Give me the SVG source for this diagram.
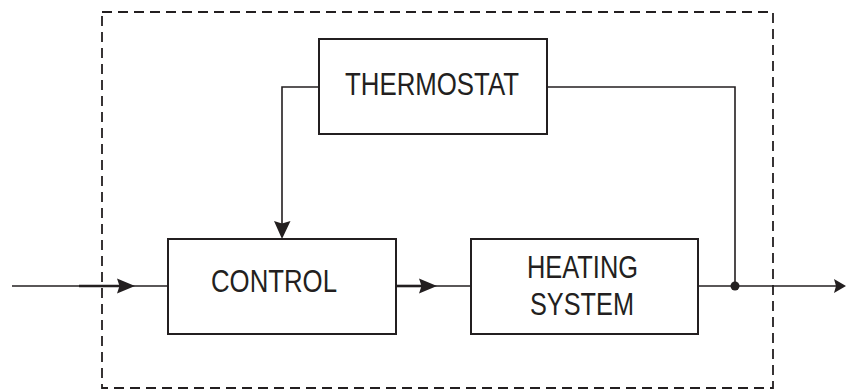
<svg xmlns="http://www.w3.org/2000/svg" width="846" height="389" viewBox="0 0 846 389">
<style>
.box{fill:#fff;stroke:#231f20;stroke-width:2}
.ln{fill:none;stroke:#231f20;stroke-width:1.6}
.thick{fill:none;stroke:#231f20;stroke-width:2.6}
.ah{fill:#231f20;stroke:none}
.lbl{font-family:"Liberation Sans",Arial,sans-serif;font-size:31px;fill:#231f20}
</style>
<rect width="846" height="389" fill="#fff"/>
<rect id="boundary" x="102" y="12" width="671" height="376" fill="none" stroke="#231f20" stroke-width="1.8" stroke-dasharray="10 6"/>
<g id="thermostat">
<rect class="box" x="319" y="39" width="228" height="95"/>
<text class="lbl" x="345" y="95" textLength="174" lengthAdjust="spacingAndGlyphs">THERMOSTAT</text>
</g>
<g id="control">
<rect class="box" x="168" y="239" width="228" height="95"/>
<text class="lbl" x="211" y="292" textLength="126" lengthAdjust="spacingAndGlyphs">CONTROL</text>
</g>
<g id="heating">
<rect class="box" x="471" y="239" width="227" height="95"/>
<text class="lbl" x="527" y="278" textLength="111" lengthAdjust="spacingAndGlyphs">HEATING</text>
<text class="lbl" x="530" y="315" textLength="104" lengthAdjust="spacingAndGlyphs">SYSTEM</text>
</g>
<g id="connectors">
<path class="ln" d="M12 286 H168"/>
<path class="thick" d="M79 286 H120"/>
<path class="ah" d="M135 286 L117 278.5 L119.5 286 L117 293.5 Z"/>
<path class="thick" d="M396 286 H422"/>
<path class="ln" d="M396 286 H471"/>
<path class="ah" d="M437 286 L419 278.5 L421.5 286 L419 293.5 Z"/>
<path class="ln" d="M698 286 H840"/>
<path class="ah" d="M846 286 L834 279 L836 286 L834 293 Z"/>
<path class="ln" d="M547 87 H735 V286"/>
<circle cx="735" cy="286" r="4.5" fill="#231f20"/>
<path class="ln" d="M319 87 H282 V225"/>
<path class="ah" d="M282 239 L274 221 L282 223.5 L290.5 221 Z"/>
</g>
</svg>
